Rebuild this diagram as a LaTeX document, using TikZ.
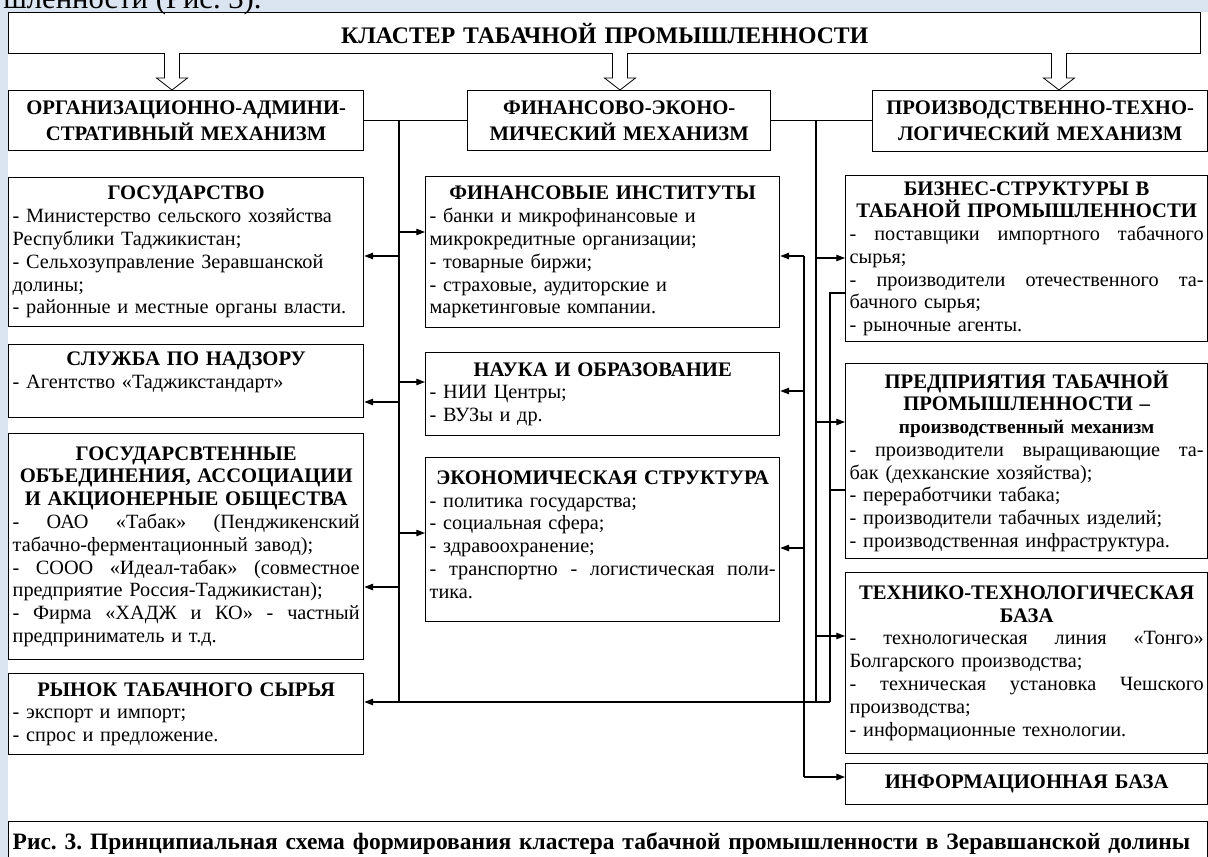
\documentclass[tikz,border=0pt]{standalone}
\usepackage{fontspec}
\setmainfont{Liberation Serif}
\usetikzlibrary{arrows.meta, positioning, calc}
\definecolor{pagebg}{RGB}{219, 229, 241}
\newdimen\px \px=0.75pt
\frenchspacing
\newcommand\bodyfont{\fontsize{15.2}{17.1}\selectfont}
\newcommand\mechfont{\fontsize{15.5}{19.5}\selectfont\bfseries}
\newcommand\zag[1]{{\centering\fontsize{15.5}{17}\selectfont\bfseries #1\par}}
\newcommand\jl[1]{\noindent\makebox[\hsize][s]{\spaceskip=0.25em plus 1em\relax #1}\par}
\newcommand\otstup[1]{\par\kern#1\px\nointerlineskip\hbox{}}

\begin{document}
\begin{tikzpicture}[x=0.75pt, y=-0.75pt, >={Triangle[length=6.5pt,width=4.8pt]}]
    \tikzset{
        blok/.style={draw, line width=1pt, anchor=north west, inner xsep=4\px, inner ysep=1\px, font=\bodyfont},
        mech/.style={blok, align=center, font=\mechfont},
        svyaz/.style={line width=0.8pt}
    }
    \useasboundingbox (0,0) rectangle (1208,857);
    \fill[pagebg] (0,0) rectangle (1208,857);
    \fill[white] (8,12) rectangle (1208,857);
    \node[anchor=base west, inner sep=0, font=\fontsize{23}{25}\selectfont] (pretext) at (3,8) {шленности (Рис. 3).};

    % верхний уровень
    \node[blok, text width=1184\px, minimum height=41\px, align=center, font=\fontsize{17.8}{19}\selectfont\bfseries] (klaster) at (8,12) {КЛАСТЕР ТАБАЧНОЙ ПРОМЫШЛЕННОСТИ};
    \node[mech, text width=347\px, minimum height=60\px] (orgmech) at (8,90) {ОРГАНИЗАЦИОННО-АДМИНИ-\\СТРАТИВНЫЙ МЕХАНИЗМ};
    \node[mech, text width=295\px, minimum height=60\px] (finmech) at (467,90) {ФИНАНСОВО-ЭКОНО-\\МИЧЕСКИЙ МЕХАНИЗМ};
    \node[mech, text width=327\px, minimum height=61\px] (promech) at (872,90) {ПРОИЗВОДСТВЕННО-ТЕХНО-\\ЛОГИЧЕСКИЙ МЕХАНИЗМ};
    \foreach \ax in {172, 620, 1059}
        \draw[line width=0.6pt, fill=white] (\ax-7.5,53) -- (\ax-7.5,78) -- (\ax-15.5,78) -- (\ax,90) -- (\ax+15.5,78) -- (\ax+7.5,78) -- (\ax+7.5,53);

    % левая колонка
    \node[blok, text width=347\px, minimum height=149\px] (gos) at (8,177) {\zag{ГОСУДАРСТВО}
        - Министерство сельского хозяйства\par Республики Таджикистан;\par - Сельхозуправление Зеравшанской\par долины;\par - районные и местные органы власти.\par};
    \node[blok, text width=347\px, minimum height=73\px] (nadzor) at (8,344) {\zag{СЛУЖБА ПО НАДЗОРУ}
        - Агентство «Таджикстандарт»\otstup{18}};
    \node[blok, text width=347\px, minimum height=226\px] (obed) at (8,433) {\zag{ГОСУДАРСВТЕННЫЕ\par ОБЪЕДИНЕНИЯ, АССОЦИАЦИИ\par И АКЦИОНЕРНЫЕ ОБЩЕСТВА}
        \jl{- ОАО «Табак» (Пенджикенский}
        табачно-ферментационный завод);\par
        \jl{- СООО «Идеал-табак» (совместное}
        предприятие Россия-Таджикистан);\par
        \jl{- Фирма «ХАДЖ и КО» - частный}
        предприниматель и т.д.\par};
    \node[blok, text width=347\px, minimum height=81\px] (rynok) at (8,673) {\zag{РЫНОК ТАБАЧНОГО СЫРЬЯ}
        - экспорт и импорт;\par - спрос и предложение.\par};

    % средняя колонка
    \node[blok, text width=346\px, minimum height=151\px] (fininst) at (425,176) {\zag{ФИНАНСОВЫЕ ИНСТИТУТЫ}
        - банки и микрофинансовые  и\par микрокредитные организации;\par - товарные биржи;\par - страховые, аудиторские и\par маркетинговые компании.\par};
    \node[blok, text width=346\px, minimum height=83\px] (nauka) at (425,352) {\zag{НАУКА И ОБРАЗОВАНИЕ}
        - НИИ Центры;\par - ВУЗы и др.\par};
    \node[blok, text width=346\px, minimum height=164\px] (ekon) at (425,457) {\zag{ЭКОНОМИЧЕСКАЯ СТРУКТУРА}
        - политика государства;\par - социальная сфера;\par - здравоохранение;\par
        \jl{- транспортно - логистическая поли-}
        тика.\otstup{10}};

    % правая колонка
    \node[blok, text width=354\px, minimum height=166\px] (biznes) at (845,175) {\zag{БИЗНЕС-СТРУКТУРЫ В\par ТАБАНОЙ ПРОМЫШЛЕННОСТИ}
        \jl{- поставщики импортного табачного}
        сырья;\par
        \jl{- производители отечественного та-}
        бачного сырья;\par - рыночные агенты.\par};
    \node[blok, text width=354\px, minimum height=195\px] (pred) at (845,363) {\zag{ПРЕДПРИЯТИЯ ТАБАЧНОЙ\par ПРОМЫШЛЕННОСТИ –}
        {\centering\fontsize{14.5}{17}\selectfont\bfseries производственный механизм\par}
        \jl{- производители выращивающие та-}
        бак (дехканские хозяйства);\par - переработчики табака;\par - производители табачных изделий;\par - производственная инфраструктура.\par};
    \node[blok, text width=354\px, minimum height=181\px] (tech) at (845,572) {\zag{ТЕХНИКО-ТЕХНОЛОГИЧЕСКАЯ\par БАЗА}
        \jl{- технологическая линия «Тонго»}
        Болгарского производства;\par
        \jl{- техническая установка Чешского}
        производства;\par - информационные технологии.\par};
    \node[blok, text width=354\px, minimum height=41\px, align=center, font=\fontsize{15.5}{17}\selectfont\bfseries] (info) at (845,763) {ИНФОРМАЦИОННАЯ БАЗА};

    % подпись
    \node[blok, text width=1191\px, minimum height=44\px, align=left, font=\fontsize{17.6}{19}\selectfont\bfseries] (podpis) at (8,821) {Рис. 3. Принципиальная схема формирования кластера табачной промышленности в Зеравшанской долины};

    % шины
    \coordinate (bL) at (399,0);
    \coordinate (bA) at (804,0);
    \coordinate (bB) at (816,0);
    \coordinate (bC) at (830,0);
    \coordinate (yR) at (0,702);
    \draw[svyaz] (orgmech.east) -- (finmech.west);
    \draw[svyaz] (finmech.east) -- (promech.west |- finmech.east);
    \draw[svyaz] (bL |- orgmech.east) -- (bL |- yR);
    \draw[svyaz] (bB |- finmech.east) -- (bB |- yR);
    \draw[svyaz] (bA |- 0,256) -- (bA |- 0,777);
    \draw[svyaz] (biznes.west |- 0,293) -| (bC |- yR);
    \draw[svyaz] (pred.west |- 0,490) -- (bC |- 0,490);
    \foreach \b/\y in {fininst/232, nauka/382, ekon/533}
        \draw[svyaz, ->] (bL |- 0,\y) -- (\b.west |- 0,\y);
    \foreach \b/\y in {gos/256, nadzor/402, obed/587}
        \draw[svyaz, ->] (bL |- 0,\y) -- (\b.east |- 0,\y);
    \foreach \b/\y in {fininst/256, nauka/391, ekon/548}
        \draw[svyaz, ->] (bA |- 0,\y) -- (\b.east |- 0,\y);
    \foreach \b/\y in {biznes/258, pred/422, tech/636}
        \draw[svyaz, ->] (bB |- 0,\y) -- (\b.west |- 0,\y);
    \draw[svyaz, ->] (bA |- 0,777) -- (info.west |- 0,777);
    \draw[svyaz, ->] (bC |- yR) -- (rynok.east |- yR);
\end{tikzpicture}
\end{document}
